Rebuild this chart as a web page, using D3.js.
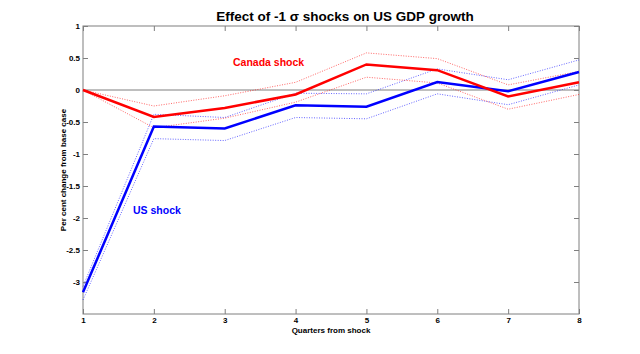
<!DOCTYPE html>
<html>
<head>
<meta charset="utf-8">
<script src="https://cdn.jsdelivr.net/npm/d3@7"></script>
<style>
  body { margin: 0; background: #fff; }
  svg text { font-family: "Liberation Sans", Arial, sans-serif; }
</style>
</head>
<body>
<svg id="chart" width="640" height="354"></svg>
<script>
// quarters on the x axis
const quarters = [1, 2, 3, 4, 5, 6, 7, 8];

// Canada shock: response and bands
const canada = [0, -0.42, -0.28, -0.07, 0.40, 0.31, -0.10, 0.12];
const canadaHi = [0, -0.25, -0.09, 0.12, 0.58, 0.49, 0.08, 0.29];
const canadaLo = [0, -0.59, -0.44, -0.19, 0.20, 0.11, -0.30, -0.07];

// US shock: response and bands
const us = [-3.16, -0.57, -0.60, -0.24, -0.26, 0.125, -0.02, 0.28];
const usHi = [-3.07, -0.38, -0.43, -0.05, -0.06, 0.33, 0.16, 0.47];
const usLo = [-3.28, -0.76, -0.79, -0.43, -0.45, -0.06, -0.23, 0.08];

const yTicks = [-3, -2.5, -2, -1.5, -1, -0.5, 0, 0.5, 1];

const svg = d3.select("#chart");
const mLeft = 83, mRight = 579, mTop = 26, mBottom = 314;

const x = d3.scaleLinear().domain([1, 8]).range([mLeft, mRight]);
const y = d3.scaleLinear().domain([-3.5, 1]).range([mBottom, mTop]);

const axisColor = "#7f7f7f";

// cadre
svg.append("rect")
  .attr("x", mLeft).attr("y", mTop)
  .attr("width", mRight - mLeft).attr("height", mBottom - mTop)
  .attr("fill", "none").attr("stroke", axisColor).attr("stroke-width", 1);

// axes avec ticks vers l'intérieur
const gx = svg.append("g").attr("transform", `translate(0,${mBottom})`)
  .call(d3.axisBottom(x).tickValues(quarters).tickSize(-5).tickPadding(3).tickFormat(d3.format("d")));
const gxTop = svg.append("g").attr("transform", `translate(0,${mTop})`)
  .call(d3.axisTop(x).tickValues(quarters).tickSize(-5).tickFormat(""));
const gy = svg.append("g").attr("transform", `translate(${mLeft},0)`)
  .call(d3.axisLeft(y).tickValues(yTicks).tickSize(-5).tickPadding(3).tickFormat(d => String(d)));
const gyRight = svg.append("g").attr("transform", `translate(${mRight},0)`)
  .call(d3.axisRight(y).tickValues(yTicks).tickSize(-5).tickFormat(""));

[gx, gxTop, gy, gyRight].forEach(g => {
  g.select(".domain").remove();
  g.selectAll("line").attr("stroke", axisColor);
  g.selectAll("text")
    .attr("fill", "#000")
    .style("font-size", "8px")
    .style("font-weight", "bold");
});

// ligne zéro
svg.append("line")
  .attr("x1", mLeft).attr("x2", mRight)
  .attr("y1", y(0)).attr("y2", y(0))
  .attr("stroke", axisColor).attr("stroke-width", 1);

const line = d3.line().x((d, i) => x(quarters[i])).y(d => y(d));

function drawBand(data, color) {
  svg.append("path").datum(data)
    .attr("d", line)
    .attr("fill", "none")
    .attr("stroke", color)
    .attr("stroke-opacity", 0.6)
    .attr("stroke-width", 1)
    .attr("stroke-dasharray", "1,1.5");
}

drawBand(usHi, "#0000ff");
drawBand(usLo, "#0000ff");
drawBand(canadaHi, "#ff0000");
drawBand(canadaLo, "#ff0000");

svg.append("path").datum(us)
  .attr("d", line).attr("fill", "none")
  .attr("stroke", "#0000ff").attr("stroke-width", 2.5);
svg.append("path").datum(canada)
  .attr("d", line).attr("fill", "none")
  .attr("stroke", "#ff0000").attr("stroke-width", 2.5);

// textes
svg.append("text")
  .attr("x", 345).attr("y", 21)
  .attr("text-anchor", "middle")
  .style("font-size", "13.5px").style("font-weight", "bold")
  .text("Effect of -1 σ shocks on US GDP growth");

svg.append("text")
  .attr("x", x(4.5)).attr("y", 333)
  .attr("text-anchor", "middle")
  .style("font-size", "8px").style("font-weight", "bold")
  .text("Quarters from shock");

svg.append("text")
  .attr("transform", `translate(66,${(mTop + mBottom) / 2}) rotate(-90)`)
  .attr("text-anchor", "middle")
  .style("font-size", "8px").style("font-weight", "bold")
  .text("Per cent change from base case");

svg.append("text")
  .attr("x", 233).attr("y", 66)
  .attr("fill", "#ff0000")
  .style("font-size", "10.5px").style("font-weight", "bold")
  .text("Canada shock");

svg.append("text")
  .attr("x", 133).attr("y", 214)
  .attr("fill", "#0000ff")
  .style("font-size", "10.5px").style("font-weight", "bold")
  .text("US shock");
</script>
</body>
</html>
